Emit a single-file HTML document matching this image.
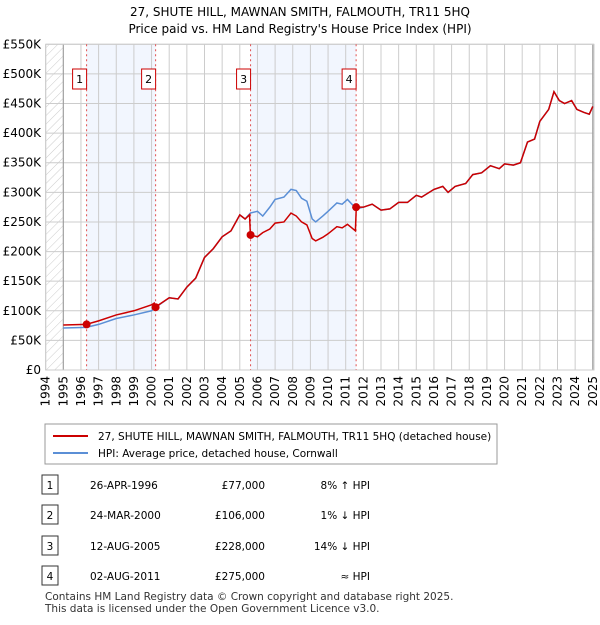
<!DOCTYPE html>
<html><head><meta charset="utf-8"><style>
body{margin:0;background:#fff;font-family:"Liberation Sans","DejaVu Sans",sans-serif;}
svg text{font-family:"DejaVu Sans","Liberation Sans",sans-serif;}
</style></head><body>
<svg width="600" height="620" xmlns="http://www.w3.org/2000/svg">
<defs><pattern id="hatch" width="6" height="6" patternUnits="userSpaceOnUse" patternTransform="rotate(45)"><line x1="0" y1="0" x2="0" y2="6" stroke="#ccc" stroke-width="1"/></pattern></defs>
<text x="300" y="16" text-anchor="middle" font-size="12">27, SHUTE HILL, MAWNAN SMITH, FALMOUTH, TR11 5HQ</text>
<text x="300" y="33" text-anchor="middle" font-size="12">Price paid vs. HM Land Registry's House Price Index (HPI)</text>
<g id="plot"></g>
<g>
<rect x="45" y="424" width="452" height="40" fill="#fff" stroke="#999"/>
<line x1="53" y1="436" x2="88" y2="436" stroke="#cc0000" stroke-width="2"/>
<text x="98" y="440" font-size="10.5">27, SHUTE HILL, MAWNAN SMITH, FALMOUTH, TR11 5HQ (detached house)</text>
<line x1="53" y1="453" x2="88" y2="453" stroke="#5b8fd6" stroke-width="2"/>
<text x="98" y="457" font-size="10.5">HPI: Average price, detached house, Cornwall</text>
</g>
<g id="table" font-size="10.5"></g>
<text x="45" y="600" font-size="10.5" fill="#333">Contains HM Land Registry data © Crown copyright and database right 2025.</text>
<text x="45" y="612" font-size="10.5" fill="#333">This data is licensed under the Open Government Licence v3.0.</text>
</svg>
<script>
const hpiX=[1995,1996.3,1997,1998,1999,2000,2000.2,2001,2001.5,2002,2002.5,2003,2003.5,2004,2004.5,2005,2005.3,2005.6,2006,2006.3,2006.7,2007,2007.5,2007.9,2008.2,2008.5,2008.8,2009.1,2009.3,2009.7,2010,2010.5,2010.8,2011.1,2011.6,2012,2012.5,2013,2013.5,2014,2014.5,2015,2015.3,2016,2016.5,2016.8,2017.2,2017.8,2018.2,2018.7,2019.2,2019.7,2020,2020.5,2020.9,2021.3,2021.7,2022,2022.5,2022.8,2023.1,2023.4,2023.8,2024.1,2024.5,2024.8,2025];
const hpiY=[71,72,77,87,93,100,105,122,120,140,155,190,205,225,235,262,255,265,268,260,275,288,292,305,303,290,285,255,250,260,268,282,280,288,272,275,280,270,272,283,283,295,292,305,310,300,310,315,330,333,345,340,348,346,350,385,390,420,440,470,455,450,455,440,435,432,445];
const redX=[1995,1996.3,1997,1998,1999,2000,2000.15,2000.2,2001,2001.5,2002,2002.5,2003,2003.5,2004,2004.5,2005,2005.3,2005.55,2005.6,2006,2006.3,2006.7,2007,2007.5,2007.9,2008.2,2008.5,2008.8,2009.1,2009.3,2009.7,2010,2010.5,2010.8,2011.1,2011.55,2011.6,2012,2012.5,2013,2013.5,2014,2014.5,2015,2015.3,2016,2016.5,2016.8,2017.2,2017.8,2018.2,2018.7,2019.2,2019.7,2020,2020.5,2020.9,2021.3,2021.7,2022,2022.5,2022.8,2023.1,2023.4,2023.8,2024.1,2024.5,2024.8,2025];
const redY=[76,77,83,93,100,110,113,106,122,120,140,155,190,205,225,235,262,255,262,228,225,232,238,248,250,265,260,250,245,222,218,224,230,242,240,246,235,275,275,280,270,272,283,283,295,292,305,310,300,310,315,330,333,345,340,348,346,350,385,390,420,440,470,455,450,455,440,435,432,445];
const saleX=[1996.32,2000.23,2005.61,2011.59];
const saleY=[77,106,228,275];
const saleLabels=['1','2','3','4'];
const yTicks=[0,50,100,150,200,250,300,350,400,450,500,550];
const yTickLabels=['£0','£50K','£100K','£150K','£200K','£250K','£300K','£350K','£400K','£450K','£500K','£550K'];
const xYears=[1994,1995,1996,1997,1998,1999,2000,2001,2002,2003,2004,2005,2006,2007,2008,2009,2010,2011,2012,2013,2014,2015,2016,2017,2018,2019,2020,2021,2022,2023,2024,2025];
const tDates=['26-APR-1996','24-MAR-2000','12-AUG-2005','02-AUG-2011'];
const tPrices=['£77,000','£106,000','£228,000','£275,000'];
const tRel=['8% ↑ HPI','1% ↓ HPI','14% ↓ HPI','≈ HPI'];

const NS='http://www.w3.org/2000/svg';
const L=45.7,R=594,T=44.3,B=370;
const X=y=>63.3+(y-1995)*17.65;
const Y=v=>B-v*(B-T)/550;
function mk(tag,attrs,parent){const e=document.createElementNS(NS,tag);for(const k in attrs)e.setAttribute(k,attrs[k]);parent.appendChild(e);return e;}
const g=document.getElementById('plot');
mk('rect',{x:L,y:T,width:R-L,height:B-T,fill:'#fff'},g);
mk('rect',{x:L,y:T,width:X(1995)-L,height:B-T,fill:'url(#hatch)'},g);
mk('rect',{x:X(2025),y:T,width:R-X(2025),height:B-T,fill:'url(#hatch)'},g);
for(let i=0;i<saleX.length;i+=2){
 const r=mk('rect',{x:X(saleX[i]),y:T,width:X(saleX[i+1])-X(saleX[i]),height:B-T,fill:'#f2f6fe'},g);
 
 
}
yTicks.forEach((v,i)=>{
 mk('line',{x1:L,x2:R,y1:Y(v),y2:Y(v),stroke:'#ccc'},g);
 const t=mk('text',{x:41,y:Y(v)+4,'text-anchor':'end','font-size':12},g);t.textContent=yTickLabels[i];
 
 
});
xYears.forEach(yr=>{
 mk('line',{x1:X(yr),x2:X(yr),y1:T,y2:B,stroke:'#ccc'},g);
 const t=mk('text',{x:0,y:0,'text-anchor':'end','font-size':12,transform:`translate(${X(yr)+4},${B+6}) rotate(-90)`},g);t.textContent=yr;
 
 
});
mk('line',{x1:X(1995),x2:X(1995),y1:T,y2:B,stroke:'#999'},g);
mk('line',{x1:X(2025),x2:X(2025),y1:T,y2:B,stroke:'#999'},g);
mk('rect',{x:L,y:T,width:R-L,height:B-T,fill:'none',stroke:'#ccc'},g);
saleX.forEach((s,i)=>{
 mk('line',{x1:X(s),x2:X(s),y1:T,y2:B,stroke:'#e05050','stroke-dasharray':'2,3'},g);
 const bx=mk('rect',{x:X(s)-14,y:69,width:14,height:20,fill:'#fff',stroke:'#cc0000'},g);
 
 
 const t=mk('text',{x:X(s)-7,y:83,'text-anchor':'middle','font-size':11},g);t.textContent=saleLabels[i];
});
const hp=mk('polyline',{points:hpiX.map((x,i)=>X(x)+','+Y(hpiY[i])).join(' '),fill:'none',stroke:'#5b8fd6','stroke-width':1.5},g);


const rp=mk('polyline',{points:redX.map((x,i)=>X(x)+','+Y(redY[i])).join(' '),fill:'none',stroke:'#cc0000','stroke-width':1.5},g);


saleX.forEach((s,i)=>{
 const c=mk('circle',{cx:X(s),cy:Y(saleY[i]),r:4,fill:'#cc0000'},g);
 
 
});
const tb=document.getElementById('table');
const rowY=[485,515,546,576];
rowY.forEach((y,i)=>{
 const row=mk('g',{},tb);
 
 
 mk('rect',{x:42,y:y-10,width:16,height:19,fill:'#fff',stroke:'#333'},row);
 let t=mk('text',{x:50,y:y+4,'text-anchor':'middle'},row);t.textContent=saleLabels[i];
 t=mk('text',{x:90,y:y+4},row);t.textContent=tDates[i];
 t=mk('text',{x:265,y:y+4,'text-anchor':'end'},row);t.textContent=tPrices[i];
 t=mk('text',{x:370,y:y+4,'text-anchor':'end'},row);t.textContent=tRel[i];
});
</script>
</body></html>
